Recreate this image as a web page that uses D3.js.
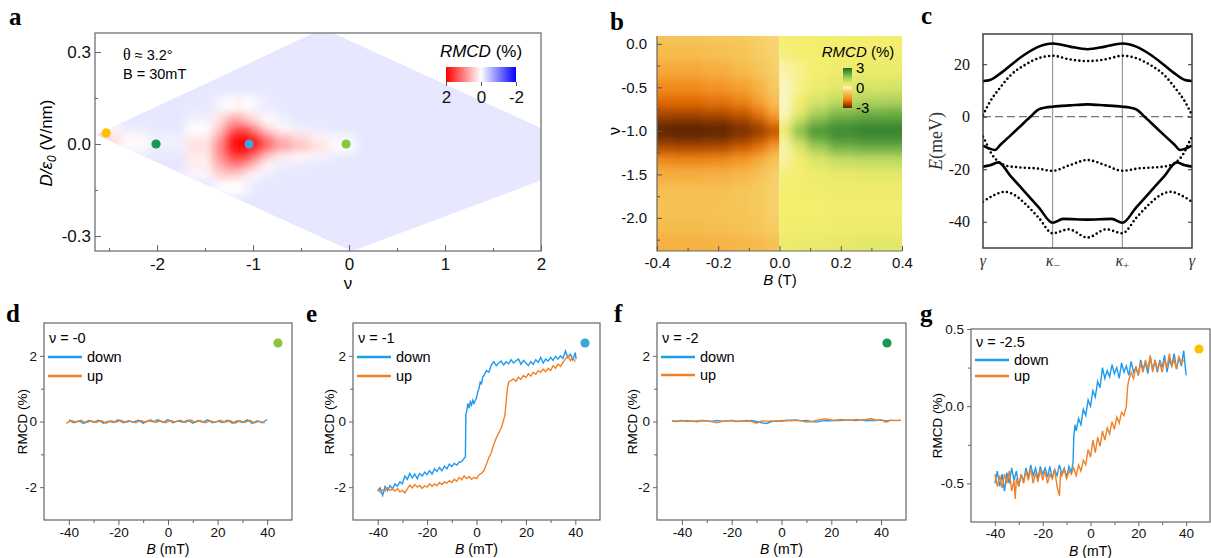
<!DOCTYPE html>
<html>
<head>
<meta charset="utf-8">
<script src="https://cdn.jsdelivr.net/npm/d3@7/dist/d3.min.js"></script>
<style>
  body { margin: 0; background: #fff; }
  svg { display: block; }
</style>
</head>
<body>
<svg id="fig" width="1211" height="558"></svg>
<script>
// ---------------- data: panel a (RMCD map vs nu, D) ----------------
var aTickX = [-2, -1, 0, 1, 2], aTickXLabels = ["-2", "-1", "0", "1", "2"];
var aMinorX = [-2.5, -1.5, -0.5, 0.5, 1.5];
var aTickY = [-0.3, 0, 0.3], aTickYLabels = ["-0.3", "0.0", "0.3"];
var aMinorY = [-0.15, 0.15];
var aDiamond = [[-2.63, 0.03], [-0.27, 0.377], [2.66, -0.042], [0.03, -0.35]];
var aBackground = -0.19;
var aNu = [-2.6, -2.45, -2.3, -1.9, -1.5, -1.35, -1.25, -1.15, -1.05, -0.95, -0.85, -0.7, -0.5, -0.3, -0.1];
var aD = [0.12, 0.08, 0.05, 0.02, -0.01, -0.04, -0.07, -0.1, -0.13];
var aRmcd = [
  [-0.19, -0.19, -0.19, -0.19, -0.19, -0.1, 0.0, 0.1, 0.0, -0.1, -0.15, -0.19, -0.19, -0.19, -0.19],
  [-0.19, -0.19, -0.19, -0.19, -0.1, 0.2, 0.6, 0.7, 0.4, 0.2, 0.0, -0.12, -0.19, -0.19, -0.19],
  [0.1, -0.05, -0.15, -0.19, 0.0, 0.4, 1.1, 1.5, 1.3, 0.8, 0.3, 0.05, -0.12, -0.17, -0.19],
  [0.45, 0.3, 0.05, -0.12, 0.15, 0.7, 1.7, 2.3, 2.3, 1.7, 1.0, 0.55, 0.3, 0.1, -0.08],
  [0.35, 0.2, 0.05, -0.12, 0.25, 0.9, 1.8, 2.3, 2.3, 1.8, 1.2, 0.75, 0.5, 0.25, 0.0],
  [-0.19, -0.15, -0.15, -0.19, 0.15, 0.8, 1.4, 1.7, 1.5, 1.0, 0.45, 0.15, 0.05, -0.08, -0.17],
  [-0.19, -0.19, -0.19, -0.19, 0.15, 0.6, 0.9, 1.0, 0.7, 0.35, 0.05, -0.12, -0.17, -0.19, -0.19],
  [-0.19, -0.19, -0.19, -0.19, -0.05, 0.35, 0.45, 0.4, 0.15, -0.05, -0.15, -0.19, -0.19, -0.19, -0.19],
  [-0.19, -0.19, -0.19, -0.19, -0.19, -0.05, 0.0, 0.0, -0.1, -0.19, -0.19, -0.19, -0.19, -0.19, -0.19]
];
var aMarkNu = [-2.53, -2.01, -1.04, -0.03];
var aMarkD = [0.036, 0.0, 0.0, 0.0];
var aCbTicks = [2, 0, -2], aCbLabels = ["2", "0", "-2"];

// ---------------- data: panel b (RMCD map vs B, nu) ----------------
var bTickX = [-0.4, -0.2, 0, 0.2, 0.4], bTickXLabels = ["-0.4", "-0.2", "0.0", "0.2", "0.4"];
var bMinorX = [-0.3, -0.1, 0.1, 0.3];
var bTickY = [0, -0.5, -1, -1.5, -2], bTickYLabels = ["0.0", "-0.5", "-1.0", "-1.5", "-2.0"];
var bMinorY = [-0.25, -0.75, -1.25, -1.75, -2.25];
var bB = [-0.4, -0.3, -0.2, -0.12, -0.06, -0.02, 0.02, 0.06, 0.12, 0.2, 0.3, 0.4];
var bNu = [0.1, -0.1, -0.3, -0.5, -0.65, -0.8, -0.9, -1.0, -1.1, -1.2, -1.35, -1.5, -1.7, -1.9, -2.1, -2.3];
var bRmcd = [
  [-0.7, -0.7, -0.65, -0.6, -0.5, -0.4, 0.3, 0.3, 0.3, 0.3, 0.3, 0.3],
  [-0.85, -0.85, -0.8, -0.7, -0.55, -0.45, 0.25, 0.3, 0.3, 0.35, 0.35, 0.35],
  [-1.2, -1.2, -1.1, -0.9, -0.7, -0.5, 0.1, 0.2, 0.3, 0.4, 0.5, 0.5],
  [-1.6, -1.6, -1.5, -1.3, -1.0, -0.6, 0.03, 0.2, 0.45, 0.65, 0.85, 0.9],
  [-2.0, -2.0, -1.9, -1.7, -1.3, -0.8, 0.02, 0.35, 0.85, 1.15, 1.35, 1.4],
  [-2.4, -2.4, -2.35, -2.2, -1.8, -1.2, 0.05, 0.65, 1.45, 1.85, 2.0, 2.05],
  [-2.8, -2.85, -2.8, -2.6, -2.3, -1.8, 0.2, 1.25, 2.0, 2.35, 2.45, 2.45],
  [-2.95, -3.0, -2.95, -2.8, -2.6, -2.3, 0.5, 1.8, 2.4, 2.6, 2.7, 2.7],
  [-2.8, -2.85, -2.8, -2.6, -2.3, -1.9, 0.2, 1.3, 2.1, 2.4, 2.5, 2.5],
  [-2.3, -2.35, -2.3, -2.1, -1.8, -1.2, 0.1, 0.65, 1.45, 1.9, 2.0, 2.0],
  [-1.6, -1.65, -1.6, -1.4, -1.1, -0.7, 0.15, 0.35, 0.8, 1.05, 1.15, 1.15],
  [-1.1, -1.1, -1.05, -0.95, -0.75, -0.5, 0.25, 0.3, 0.45, 0.55, 0.65, 0.65],
  [-0.8, -0.8, -0.8, -0.7, -0.6, -0.5, 0.3, 0.3, 0.35, 0.4, 0.4, 0.4],
  [-0.75, -0.75, -0.75, -0.7, -0.6, -0.5, 0.3, 0.3, 0.3, 0.35, 0.35, 0.35],
  [-0.85, -0.85, -0.8, -0.75, -0.65, -0.55, 0.35, 0.35, 0.35, 0.4, 0.45, 0.45],
  [-1.05, -1.05, -1.0, -0.95, -0.85, -0.75, 0.45, 0.5, 0.55, 0.6, 0.65, 0.65]
];
var bCbLabels = ["3", "0", "-3"];

// ---------------- data: panel c (bands) ----------------
var cTickY = [20, 0, -20, -40], cTickYLabels = ["20", "0", "-20", "-40"];
var cKLabels = ["γ", "κ", "κ", "γ"], cKSub = ["", "−", "+", ""];
var cSolid1 = [[0,13.6],[0.1,14.0],[0.25,16.5],[0.4,19.7],[0.6,23.7],[0.8,26.7],[1,27.9],[1.25,26.7],[1.5,25.7],[1.75,26.7],[2,27.9],[2.2,26.7],[2.4,23.7],[2.6,19.7],[2.75,16.5],[2.9,14.0],[3,13.6]];
var cDotted1 = [[0,0.6],[0.1,5.7],[0.25,11.2],[0.4,15.9],[0.6,19.7],[0.8,22.3],[1,23.2],[1.25,21.8],[1.5,21.2],[1.75,21.8],[2,23.2],[2.2,22.3],[2.4,19.7],[2.6,15.9],[2.75,11.2],[2.9,5.7],[3,0.6]];
var cSolid2 = [[0,-11],[0.08,-12],[0.17,-12.7],[0.25,-10.7],[0.4,-7],[0.6,-2],[0.68,0],[0.8,2.8],[0.9,3.5],[1,3.8],[1.25,4.3],[1.5,4.7],[1.75,4.3],[2,3.8],[2.1,3.5],[2.2,2.8],[2.32,0],[2.4,-2],[2.6,-7],[2.75,-10.7],[2.83,-12.7],[2.92,-12],[3,-11]];
var cDotted2 = [[0,-7.6],[0.05,-10.2],[0.12,-14],[0.22,-17.1],[0.34,-18.7],[0.53,-19.3],[0.77,-19.7],[1,-20.6],[1.25,-18.4],[1.5,-16.5],[1.75,-18.4],[2,-20.6],[2.23,-19.7],[2.47,-19.3],[2.66,-18.7],[2.78,-17.1],[2.88,-14],[2.95,-10.2],[3,-7.6]];
var cSolid3 = [[0,-19],[0.1,-18.5],[0.22,-17.4],[0.4,-22.7],[0.6,-28.6],[0.8,-34.5],[1,-40.4],[1.15,-38.9],[1.5,-39.2],[1.85,-38.9],[2,-40.4],[2.2,-34.5],[2.4,-28.6],[2.6,-22.7],[2.78,-17.4],[2.9,-18.5],[3,-19]];
var cDotted3 = [[0,-32.4],[0.15,-30],[0.31,-28.6],[0.45,-29.8],[0.6,-33],[0.8,-38.5],[1,-44.4],[1.23,-42.9],[1.5,-46],[1.77,-42.9],[2,-44.4],[2.2,-38.5],[2.4,-33],[2.55,-29.8],[2.69,-28.6],[2.85,-30],[3,-32.4]];

// ---------------- data: panels d-g (RMCD loops) ----------------
var loopTickX = [-40, -20, 0, 20, 40], loopTickXLabels = ["-40", "-20", "0", "20", "40"];
var loopMinorX = [-30, -10, 10, 30];
var loopTickY = [-2, 0, 2], loopTickYLabels = ["-2", "0", "2"];
var loopMinorY = [-1, 1];
var gTickY = [-0.5, 0, 0.5], gTickYLabels = ["-0.5", "0.0", "0.5"];
var gMinorY = [-0.25, 0.25];
var loopNames = ["ν = -0", "ν = -1", "ν = -2", "ν = -2.5"];

var dDownB = d3.range(-40, 41, 2);
var dDown = [0.05,-0.04,0.02,-0.06,0.03, -0.02,0.04,-0.05,0.01,-0.03, 0.05,-0.04,0.02,-0.02,0.04, -0.05,0.03,-0.01,0.05,-0.03, 0.06,-0.04,0.02,-0.02,0.04, -0.05,0.03,-0.02,0.05,-0.04, 0.01,-0.03,0.04,-0.05,0.02, -0.03,0.05,-0.06,0.02,-0.04, 0.06];
var dUpB = d3.range(-41, 40, 2);
var dUp = [-0.06,0.03,-0.02,0.04,-0.04, 0.02,-0.03,0.03,-0.05,0.02, -0.02,0.04,-0.03,0.01,-0.04, 0.03,-0.02,0.05,-0.03,0.02, -0.04,0.03,-0.01,0.04,-0.03, 0.05,-0.02,0.03,-0.04,0.02, -0.03,0.04,-0.02,0.03,-0.05, 0.02,-0.03,0.04,-0.04,0.01, -0.05];

var eDown = [[-40,-2.12],[-39,-2.02],[-38,-2.25],[-37,-1.98],[-36,-2.1],[-35,-1.95],[-34,-2.05],[-33,-1.9],[-32,-1.97],[-31,-1.84],[-30,-1.9],[-29,-1.66],[-28,-1.76],[-27,-1.58],[-26,-1.72],[-25,-1.6],[-24,-1.74],[-23,-1.58],[-22,-1.66],[-21,-1.54],[-20,-1.62],[-19,-1.5],[-18,-1.6],[-17,-1.44],[-16,-1.52],[-15,-1.4],[-14,-1.5],[-13,-1.36],[-12,-1.44],[-11,-1.3],[-10,-1.37],[-9,-1.28],[-8,-1.33],[-7,-1.24],[-6,-1.22],[-5,-1.12],[-4.5,-1.08],[-4.3,0.2],[-4,0.3],[-3.5,0.55],[-3,0.4],[-2.5,0.6],[-2,0.5],[-1.5,0.65],[-1,0.55],[0,0.72],[0.5,0.9],[1,1.0],[1.5,1.2],[2,1.15],[2.5,1.35],[3,1.4],[4,1.55],[5,1.5],[6,1.72],[7,1.82],[8,1.7],[9,1.78],[10,1.84],[11,1.72],[12,1.82],[13,1.76],[14,1.88],[15,1.78],[16,1.85],[17,1.9],[18,1.74],[19,1.86],[20,1.78],[21,1.7],[22,1.82],[23,1.74],[24,1.88],[25,1.8],[26,1.95],[27,1.78],[28,1.9],[29,1.84],[30,1.95],[31,1.86],[32,1.98],[33,1.9],[34,2.0],[35,1.92],[36,2.15],[37,1.95],[38,2.05],[39,1.88],[40,2.1],[40.3,1.9]];
var eUp = [[-40,-2.05],[-39,-2.15],[-38,-2.08],[-37,-2.12],[-36,-2.02],[-35,-2.1],[-34,-2.06],[-33,-2.12],[-32,-2.04],[-31,-2.14],[-30,-2.1],[-29,-2.18],[-28,-2.05],[-27,-1.94],[-26,-2.02],[-25,-1.92],[-24,-2.0],[-23,-1.95],[-22,-2.04],[-21,-1.96],[-20,-2.0],[-19,-1.9],[-18,-1.98],[-17,-1.9],[-16,-1.96],[-15,-1.86],[-14,-1.92],[-13,-1.84],[-12,-1.88],[-11,-1.8],[-10,-1.86],[-9,-1.76],[-8,-1.82],[-7,-1.7],[-6,-1.78],[-5,-1.66],[-4,-1.74],[-3,-1.68],[-2,-1.76],[-1,-1.7],[0,-1.74],[1,-1.62],[2,-1.58],[3,-1.5],[4,-1.3],[5,-1.1],[6,-0.95],[7,-0.7],[8,-0.5],[9,-0.35],[10,-0.2],[11,0.05],[11.5,0.2],[12,0.6],[12.5,1.0],[13,1.2],[14,1.25],[15,1.3],[16,1.22],[17,1.35],[18,1.28],[19,1.4],[20,1.34],[21,1.46],[22,1.38],[23,1.5],[24,1.44],[25,1.55],[26,1.5],[27,1.6],[28,1.52],[29,1.62],[30,1.55],[31,1.7],[32,1.62],[33,1.75],[34,1.68],[35,1.8],[36,1.9],[37,2.0],[38,1.85],[39,1.95],[40,1.82]];

var fDownB = d3.range(-44, 46, 2);
var fDown = [0.02,0.0,0.03,0.01,0.02, -0.01,0.03,0.02,0.0,0.03, 0.01,0.02,0.03,0.0,0.02, 0.01,0.03,0.0,-0.04,-0.06, 0.0,0.02,0.01,0.04,0.03, 0.05,0.02,0.03,0.0,-0.02, 0.01,0.03,0.02,0.04,0.03, 0.05,0.04,0.03,0.05,0.02, 0.04,0.03,0.05,0.02,0.04];
var fUpB = d3.range(-44, 50, 2);
var fUp = [0.02,0.01,0.02,0.03,0.01, 0.02,0.03,0.02,0.0,-0.04, 0.0,0.02,0.03,0.01,0.02, 0.03,0.0,-0.05,0.02,0.01, 0.02,0.0,0.03,0.02,0.04, 0.03,0.02,-0.02,0.0,0.03, 0.06,0.08,0.05,0.04,0.06, 0.05,0.04,0.06,0.05,0.06, 0.09,0.04,0.05,-0.02,0.04, 0.03,0.04];

var gDown = [[-40,-0.5],[-39,-0.42],[-38,-0.52],[-37,-0.44],[-36,-0.55],[-35,-0.43],[-34,-0.5],[-33,-0.4],[-32,-0.48],[-31,-0.42],[-30,-0.52],[-29,-0.44],[-28,-0.49],[-27,-0.4],[-26,-0.46],[-25,-0.38],[-24,-0.45],[-23,-0.4],[-22,-0.47],[-21,-0.39],[-20,-0.44],[-19,-0.4],[-18,-0.46],[-17,-0.39],[-16,-0.47],[-15,-0.41],[-14,-0.45],[-13,-0.38],[-12,-0.44],[-11,-0.4],[-10,-0.46],[-9,-0.39],[-8,-0.43],[-7.3,-0.36],[-7,-0.2],[-6.5,-0.12],[-6,-0.16],[-5,-0.08],[-4,-0.12],[-3,-0.02],[-2,-0.06],[-1,0.04],[0,0.0],[1,0.1],[2,0.06],[3,0.16],[4,0.12],[5,0.25],[6,0.18],[7,0.23],[8,0.19],[9,0.27],[10,0.21],[11,0.25],[12,0.18],[13,0.28],[14,0.22],[15,0.26],[16,0.2],[17,0.29],[18,0.22],[19,0.25],[20,0.2],[21,0.3],[22,0.24],[23,0.28],[24,0.21],[25,0.32],[26,0.24],[27,0.29],[28,0.22],[29,0.3],[30,0.25],[31,0.33],[32,0.22],[33,0.3],[34,0.26],[35,0.34],[36,0.24],[37,0.32],[38,0.26],[39,0.36],[40,0.2]];
var gUp = [[-40,-0.44],[-39,-0.52],[-38,-0.45],[-37,-0.53],[-36,-0.44],[-35,-0.5],[-34,-0.42],[-33,-0.55],[-32,-0.48],[-31.5,-0.6],[-31,-0.47],[-30,-0.52],[-29,-0.44],[-28,-0.5],[-27,-0.42],[-26,-0.48],[-25,-0.4],[-24,-0.5],[-23,-0.43],[-22,-0.49],[-21,-0.41],[-20,-0.48],[-19,-0.42],[-18,-0.5],[-17,-0.44],[-16,-0.47],[-15,-0.41],[-14,-0.52],[-13,-0.58],[-12.5,-0.42],[-12,-0.45],[-11,-0.41],[-10,-0.47],[-9,-0.42],[-8,-0.44],[-7,-0.4],[-6,-0.45],[-5,-0.38],[-4,-0.42],[-3,-0.35],[-2,-0.38],[-1,-0.28],[0,-0.33],[1,-0.22],[2,-0.3],[3,-0.2],[4,-0.26],[5,-0.16],[6,-0.22],[7,-0.14],[8,-0.18],[9,-0.1],[10,-0.15],[11,-0.07],[12,-0.11],[13,-0.04],[14,-0.06],[15,0.0],[15.5,0.12],[16,0.17],[17,0.22],[18,0.18],[19,0.26],[20,0.2],[21,0.28],[22,0.22],[23,0.3],[24,0.24],[25,0.33],[26,0.22],[27,0.3],[28,0.24],[29,0.28],[30,0.22],[31,0.3],[32,0.25],[33,0.34],[34,0.26],[35,0.3],[36,0.24],[37,0.32],[38,0.28],[39,0.3]];

// ---------------- styles ----------------
var SANS = "'Liberation Sans', Arial, sans-serif";
var SERIF = "'Liberation Serif', 'Times New Roman', serif";
var blue = "#1e9bef", orange = "#ef8228";
var markColors = ["#ffc000", "#1a9850", "#3aa6dd", "#8cc540"];
var bStops = [-3, -2.5, -2, -1.5, -1, -0.6, -0.2, 0, 0.3, 0.8, 1.5, 2.2, 3];
var bColors = ["#5a2400", "#a34200", "#e46c00", "#f49426", "#f5b445", "#f6ca5e", "#f8e08e", "#fcf6c8", "#f4ee6e", "#dce66a", "#a8cf5c", "#5ea63e", "#1d6b25"];

var svg = d3.select("#fig").attr("font-family", SANS);
var defs = svg.append("defs");

function blurFilter(id, sd) {
  defs.append("filter").attr("id", id)
    .attr("filterUnits", "userSpaceOnUse")
    .attr("x", 0).attr("y", 0).attr("width", 1211).attr("height", 558)
    .append("feGaussianBlur").attr("stdDeviation", sd);
}
function clipRect(id, x0, y0, x1, y1) {
  defs.append("clipPath").attr("id", id).append("rect")
    .attr("x", x0).attr("y", y0).attr("width", x1 - x0).attr("height", y1 - y0);
}
// cell borders halfway between the sample centres (outer ones padded)
function edges(centers, scale, pad) {
  var p = centers.map(scale), n = p.length, s = Math.sign(p[1] - p[0]), e = [];
  e.push(p[0] - (p[1] - p[0]) / 2 - s * pad);
  for (var i = 1; i < n; i++) e.push((p[i - 1] + p[i]) / 2);
  e.push(p[n - 1] + (p[n - 1] - p[n - 2]) / 2 + s * pad);
  return e;
}
function cells(g, xs, ys, vals, xScale, yScale, color, pad) {
  var ex = edges(xs, xScale, pad), ey = edges(ys, yScale, pad);
  vals.forEach(function(row, i) {
    row.forEach(function(v, j) {
      g.append("rect")
        .attr("x", Math.min(ex[j], ex[j + 1])).attr("width", Math.abs(ex[j + 1] - ex[j]) + 0.6)
        .attr("y", Math.min(ey[i], ey[i + 1])).attr("height", Math.abs(ey[i + 1] - ey[i]) + 0.6)
        .attr("fill", color(v));
    });
  });
}
function axis(gen, transform, size, color, family) {
  var a = svg.append("g").attr("transform", transform).call(gen);
  a.select(".domain").remove();
  a.attr("font-size", size).attr("font-family", family || SANS);
  a.selectAll("line").attr("stroke", color);
  a.selectAll("text").attr("fill", "#111");
  return a;
}
function letter(t, x, y) {
  svg.append("text").attr("x", x).attr("y", y).attr("font-family", SERIF)
    .attr("font-weight", "bold").attr("font-size", 25).text(t);
}

// =============== panel a ===============
var ax = d3.scaleLinear().domain([-2.646, 2]).range([95, 541]);
var ay = d3.scaleLinear().domain([-0.349, 0.362]).range([251, 33]);
var colorA = d3.scaleLinear().domain([-2, 0, 2]).range(["#0000ff", "#ffffff", "#ff0000"]).clamp(true);
clipRect("clipA", 95, 33, 541, 251);
var diamondPath = d3.line().x(function(d) { return ax(d[0]); }).y(function(d) { return ay(d[1]); })
  .curve(d3.curveLinearClosed)(aDiamond);
defs.append("clipPath").attr("id", "clipDiamond").append("path").attr("d", diamondPath);
blurFilter("blurA", 4.5);
var gA = svg.append("g").attr("clip-path", "url(#clipA)")
  .append("g").attr("clip-path", "url(#clipDiamond)");
gA.append("path").attr("d", diamondPath).attr("fill", colorA(aBackground));
cells(gA.append("g").attr("filter", "url(#blurA)"), aNu, aD, aRmcd, ax, ay, colorA, 6);

svg.append("rect").attr("x", 95).attr("y", 33).attr("width", 446).attr("height", 218)
  .attr("fill", "none").attr("stroke", "#666").attr("stroke-width", 1.2);
axis(d3.axisBottom(ax).tickValues(aTickX).tickSize(-6).tickPadding(7).tickFormat(function(d, i) { return aTickXLabels[i]; }),
  "translate(0,251)", 17, "#666");
axis(d3.axisBottom(ax).tickValues(aMinorX).tickSize(-3).tickFormat(""), "translate(0,251)", 17, "#666");
axis(d3.axisLeft(ay).tickValues(aTickY).tickSize(-6).tickPadding(4).tickFormat(function(d, i) { return aTickYLabels[i]; }),
  "translate(95,0)", 17, "#666");
axis(d3.axisLeft(ay).tickValues(aMinorY).tickSize(-3).tickFormat(""), "translate(95,0)", 17, "#666");

var yla = svg.append("text").attr("transform", "translate(52,143) rotate(-90)")
  .attr("text-anchor", "middle").attr("font-size", 17);
yla.append("tspan").attr("font-style", "italic").text("D/ε");
yla.append("tspan").attr("font-style", "italic").attr("font-size", 12).attr("dy", 4).text("0");
yla.append("tspan").attr("dy", -4).text(" (V/nm)");
svg.append("text").attr("x", 348).attr("y", 289).attr("text-anchor", "middle").attr("font-size", 17).text("ν");

var ann = svg.append("text").attr("x", 123).attr("y", 60).attr("font-size", 14.5);
ann.append("tspan").attr("font-family", SERIF).attr("font-size", 16).text("θ");
ann.append("tspan").text(" ≈ 3.2°");
svg.append("text").attr("x", 123).attr("y", 79).attr("font-size", 14.5).text("B = 30mT");

// colour bar a
var cbA = d3.scaleLinear().domain([2, -2]).range([446, 516]);
var gradA = defs.append("linearGradient").attr("id", "gradA");
d3.range(0, 1.01, 0.1).forEach(function(t) {
  gradA.append("stop").attr("offset", t).attr("stop-color", colorA(cbA.invert(446 + t * 70)));
});
svg.append("rect").attr("x", 446).attr("y", 67).attr("width", 70).attr("height", 15).attr("fill", "url(#gradA)");
axis(d3.axisBottom(cbA).tickValues(aCbTicks).tickSize(4).tickPadding(5).tickFormat(function(d, i) { return aCbLabels[i]; }),
  "translate(0,82)", 17, "#555");
var tA = svg.append("text").attr("x", 481).attr("y", 57).attr("text-anchor", "middle").attr("font-size", 17);
tA.append("tspan").attr("font-style", "italic").text("RMCD");
tA.append("tspan").text(" (%)");

aMarkNu.forEach(function(v, i) {
  svg.append("circle").attr("cx", ax(v)).attr("cy", ay(aMarkD[i])).attr("r", 4.6).attr("fill", markColors[i]);
});
letter("a", 9, 25);

// =============== panel b ===============
var bx = d3.scaleLinear().domain([-0.4, 0.4]).range([657, 902]);
var by = d3.scaleLinear().domain([-2.38, 0.09]).range([251, 36]);
var colorB = d3.scaleLinear().domain(bStops).range(bColors).clamp(true);
clipRect("clipBL", 657, 36, bx(0), 251);
clipRect("clipBR", bx(0), 36, 902, 251);
blurFilter("blurB", 4);
var gBL = svg.append("g").attr("clip-path", "url(#clipBL)").append("g").attr("filter", "url(#blurB)");
cells(gBL, bB.slice(0, 6), bNu, bRmcd.map(function(r) { return r.slice(0, 6); }), bx, by, colorB, 15);
var gBR = svg.append("g").attr("clip-path", "url(#clipBR)").append("g").attr("filter", "url(#blurB)");
cells(gBR, bB.slice(6), bNu, bRmcd.map(function(r) { return r.slice(6); }), bx, by, colorB, 15);

svg.append("path").attr("d", "M657,36V251H902").attr("fill", "none").attr("stroke", "#666").attr("stroke-width", 1.2);
axis(d3.axisBottom(bx).tickValues(bTickX).tickSize(-5).tickPadding(6).tickFormat(function(d, i) { return bTickXLabels[i]; }),
  "translate(0,251)", 15, "#555");
axis(d3.axisBottom(bx).tickValues(bMinorX).tickSize(-3).tickFormat(""), "translate(0,251)", 15, "#555");
axis(d3.axisLeft(by).tickValues(bTickY).tickSize(-5).tickPadding(10).tickFormat(function(d, i) { return bTickYLabels[i]; }),
  "translate(657,0)", 15, "#555");
axis(d3.axisLeft(by).tickValues(bMinorY).tickSize(-3).tickFormat(""), "translate(657,0)", 15, "#555");
svg.append("text").attr("transform", "translate(620,131) rotate(-90)").attr("text-anchor", "middle")
  .attr("font-size", 16).text("ν");
var xlb = svg.append("text").attr("x", 780).attr("y", 285).attr("text-anchor", "middle").attr("font-size", 15);
xlb.append("tspan").attr("font-style", "italic").text("B");
xlb.append("tspan").text(" (T)");

// colour bar b
var cbB = d3.scaleLinear().domain([3, -3]).range([68, 108]);
var gradB = defs.append("linearGradient").attr("id", "gradB").attr("x1", 0).attr("y1", 0).attr("x2", 0).attr("y2", 1);
bStops.slice().reverse().forEach(function(v) {
  gradB.append("stop").attr("offset", (3 - v) / 6).attr("stop-color", colorB(v));
});
svg.append("rect").attr("x", 843).attr("y", 68).attr("width", 9).attr("height", 40).attr("fill", "url(#gradB)");
[3, 0, -3].forEach(function(v, i) {
  svg.append("text").attr("x", 856).attr("y", cbB(v) + 5).attr("font-size", 15).text(bCbLabels[i]);
});
var tB = svg.append("text").attr("x", 858).attr("y", 57).attr("text-anchor", "middle").attr("font-size", 15);
tB.append("tspan").attr("font-style", "italic").text("RMCD");
tB.append("tspan").text(" (%)");
letter("b", 610, 30);

// =============== panel c ===============
var cx = d3.scaleLinear().domain([0, 3]).range([983, 1192]);
var cy = d3.scaleLinear().domain([-50, 31.5]).range([248, 34]);
clipRect("clipC", 983, 34, 1192, 248);
var gC = svg.append("g").attr("clip-path", "url(#clipC)");
[1, 2].forEach(function(k) {
  gC.append("line").attr("x1", cx(k)).attr("x2", cx(k)).attr("y1", 34).attr("y2", 248)
    .attr("stroke", "#777").attr("stroke-width", 0.9);
});
gC.append("line").attr("x1", 983).attr("x2", 1192).attr("y1", cy(0)).attr("y2", cy(0))
  .attr("stroke", "#555").attr("stroke-width", 1).attr("stroke-dasharray", "8,4");
var bandLine = d3.line().x(function(d) { return cx(d[0]); }).y(function(d) { return cy(d[1]); }).curve(d3.curveMonotoneX);
[cSolid1, cSolid2, cSolid3].forEach(function(b) {
  gC.append("path").attr("d", bandLine(b)).attr("fill", "none").attr("stroke", "#000").attr("stroke-width", 2.6);
});
[cDotted1, cDotted2, cDotted3].forEach(function(b) {
  gC.append("path").attr("d", bandLine(b)).attr("fill", "none").attr("stroke", "#000").attr("stroke-width", 2.6)
    .attr("stroke-linecap", "round").attr("stroke-dasharray", "0,4.4");
});
svg.append("rect").attr("x", 983).attr("y", 34).attr("width", 209).attr("height", 214)
  .attr("fill", "none").attr("stroke", "#333").attr("stroke-width", 1.4);
axis(d3.axisLeft(cy).tickValues(cTickY).tickSize(-4).tickPadding(13).tickFormat(function(d, i) { return cTickYLabels[i]; }),
  "translate(983,0)", 16, "#333", SERIF);
axis(d3.axisRight(cy).tickValues(cTickY).tickSize(-4).tickFormat(""), "translate(1192,0)", 16, "#333");
cKLabels.forEach(function(t, i) {
  var tx = svg.append("text").attr("x", cx(i)).attr("y", 266).attr("text-anchor", "middle")
    .attr("font-family", SERIF).attr("font-style", "italic").attr("font-size", 16).attr("fill", "#333");
  tx.append("tspan").text(t);
  if (cKSub[i]) tx.append("tspan").attr("font-size", 11).attr("font-style", "normal").attr("dy", 3).text(cKSub[i]);
});
var ylc = svg.append("text").attr("transform", "translate(942,141) rotate(-90)").attr("text-anchor", "middle")
  .attr("font-family", SERIF).attr("font-size", 18).attr("fill", "#333");
ylc.append("tspan").attr("font-style", "italic").text("E");
ylc.append("tspan").text("(meV)");
letter("c", 921, 24);

// =============== panels d-g ===============
function loopPanel(p) {
  var x = d3.scaleLinear().domain([-50, 50]).range([p.x0, p.x1]);
  var y = d3.scaleLinear().domain(p.yDom).range([p.y1, p.y0]);
  clipRect(p.id, p.x0, p.y0, p.x1, p.y1);
  var line = d3.line().x(function(d) { return x(d[0]); }).y(function(d) { return y(d[1]); });
  var gl = svg.append("g").attr("clip-path", "url(#" + p.id + ")");
  gl.append("path").attr("d", line(p.down)).attr("fill", "none").attr("stroke", blue).attr("stroke-width", 1.4);
  gl.append("path").attr("d", line(p.up)).attr("fill", "none").attr("stroke", orange).attr("stroke-width", 1.4);
  svg.append("rect").attr("x", p.x0).attr("y", p.y0).attr("width", p.x1 - p.x0).attr("height", p.y1 - p.y0)
    .attr("fill", "none").attr("stroke", "#666").attr("stroke-width", 1.2);
  axis(d3.axisBottom(x).tickValues(loopTickX).tickSize(p.tick).tickPadding(2).tickFormat(function(d, i) { return loopTickXLabels[i]; }),
    "translate(0," + p.y1 + ")", 13.5, "#666");
  axis(d3.axisBottom(x).tickValues(loopMinorX).tickSize(3).tickFormat(""), "translate(0," + p.y1 + ")", 13.5, "#666");
  axis(d3.axisLeft(y).tickValues(p.yTicks).tickSize(4).tickPadding(3).tickFormat(function(d, i) { return p.yLabels[i]; }),
    "translate(" + p.x0 + ",0)", 13.5, "#666");
  axis(d3.axisLeft(y).tickValues(p.yMinor).tickSize(3).tickFormat(""), "translate(" + p.x0 + ",0)", 13.5, "#666");
  svg.append("text").attr("transform", "translate(" + p.ylx + "," + (p.y0 + p.y1) / 2 + ") rotate(-90)")
    .attr("text-anchor", "middle").attr("font-size", 13.5).text("RMCD (%)");
  var xl = svg.append("text").attr("x", (p.x0 + p.x1) / 2).attr("y", p.xly).attr("text-anchor", "middle").attr("font-size", 14);
  xl.append("tspan").attr("font-style", "italic").text("B");
  xl.append("tspan").text(" (mT)");
  // legend
  var lx = p.x0 + 4, ly = p.y0;
  svg.append("text").attr("x", lx + 1).attr("y", ly + p.leg[0]).attr("font-size", 14.5).text(p.name);
  [[blue, "down"], [orange, "up"]].forEach(function(it, i) {
    var yy = ly + p.leg[i + 1];
    svg.append("line").attr("x1", lx).attr("x2", lx + 34).attr("y1", yy).attr("y2", yy)
      .attr("stroke", it[0]).attr("stroke-width", 2.6);
    svg.append("text").attr("x", lx + 39).attr("y", yy + 5).attr("font-size", 14.5).text(it[1]);
  });
  svg.append("circle").attr("cx", p.dot).attr("cy", ly + 20).attr("r", 4.6).attr("fill", p.dotColor);
  letter(p.letter, p.lx, 322);
}

loopPanel({ id: "clipD", x0: 44, x1: 292, y0: 323, y1: 520, yDom: [-3, 3], yTicks: loopTickY, yLabels: loopTickYLabels,
  yMinor: loopMinorY, down: d3.zip(dDownB, dDown), up: d3.zip(dUpB, dUp), name: loopNames[0], leg: [20, 34, 53],
  ylx: 27, dot: 278, dotColor: markColors[3], letter: "d", lx: 6, tick: 5, xly: 554 });
loopPanel({ id: "clipE", x0: 353, x1: 600, y0: 323, y1: 520, yDom: [-3, 3], yTicks: loopTickY, yLabels: loopTickYLabels,
  yMinor: loopMinorY, down: eDown, up: eUp, name: loopNames[1], leg: [20, 34, 53],
  ylx: 334, dot: 585, dotColor: markColors[2], letter: "e", lx: 306, tick: 5, xly: 554 });
loopPanel({ id: "clipF", x0: 657, x1: 906, y0: 323, y1: 520, yDom: [-3, 3], yTicks: loopTickY, yLabels: loopTickYLabels,
  yMinor: loopMinorY, down: d3.zip(fDownB, fDown), up: d3.zip(fUpB, fUp), name: loopNames[2], leg: [20, 34, 52],
  ylx: 637, dot: 887, dotColor: markColors[1], letter: "f", lx: 614, tick: 5, xly: 554 });
loopPanel({ id: "clipG", x0: 971, x1: 1210, y0: 329, y1: 522, yDom: [-0.75, 0.5], yTicks: gTickY, yLabels: gTickYLabels,
  yMinor: gMinorY, down: gDown, up: gUp, name: loopNames[3], leg: [18, 31, 47],
  ylx: 942, dot: 1199, dotColor: markColors[0], letter: "g", lx: 920, tick: 4, xly: 556 });
</script>
</body>
</html>
